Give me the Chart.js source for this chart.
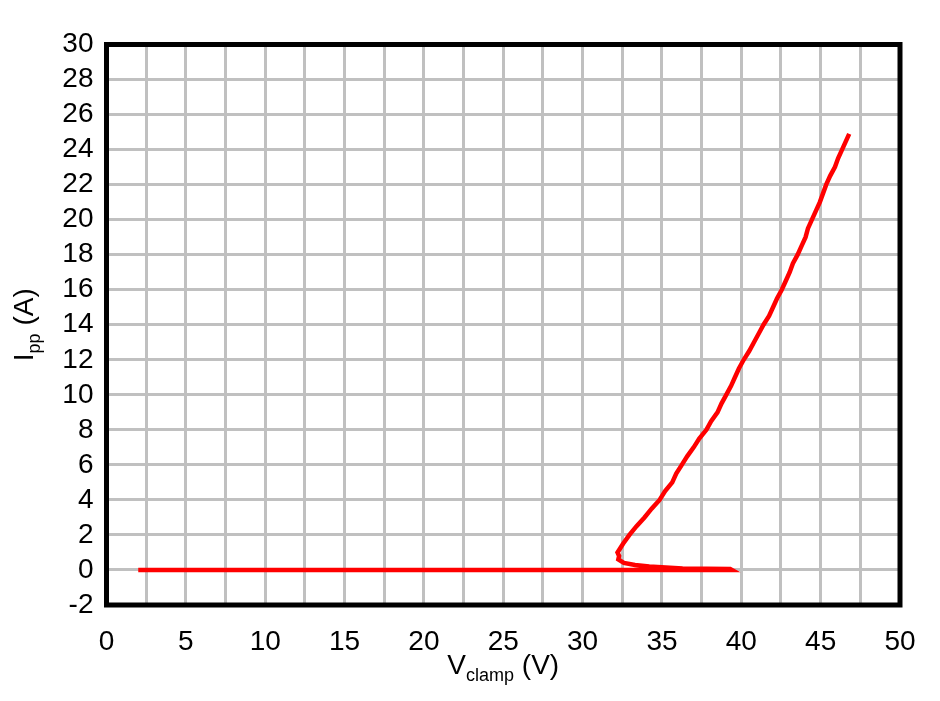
<!DOCTYPE html>
<html>
<head>
<meta charset="utf-8">
<script src="https://cdn.jsdelivr.net/npm/chart.js@4.4.1/dist/chart.umd.min.js"></script>
<style>
  html, body { margin: 0; padding: 0; background: #fff; }
  #wrap { width: 940px; height: 701px; }
</style>
</head>
<body>
<div id="wrap"><canvas id="tlp_chart" width="940" height="701"></canvas></div>
<script>
// TLP trace: clamp voltage (V) vs pulse current (A)
var vclamp = [2.0, 39.4, 39.3, 36.3, 34.2, 33.3, 32.6, 32.25, 32.3,
    32.2, 32.55, 32.95, 33.4, 33.9, 34.35, 34.85, 35.2, 35.65, 35.9,
    36.25, 36.6, 37.0, 37.35, 37.8, 38.1, 38.5, 38.75, 39.05, 39.35,
    39.6, 39.85, 40.15, 40.5, 40.8, 41.1, 41.4, 41.75, 42.0, 42.25,
    42.55, 42.8, 43.05, 43.25, 43.55, 43.8, 44.05, 44.2, 44.45, 44.7,
    44.95, 45.15, 45.35, 45.6, 45.9, 46.1, 46.35, 46.6, 46.8]
var ipp = [0.0, 0.0, 0.05, 0.09, 0.2, 0.28, 0.4, 0.6, 0.8,
    1.0, 1.5, 2.0, 2.5, 3.0, 3.5, 4.0, 4.5, 5.0, 5.5,
    6.0, 6.5, 7.0, 7.5, 8.0, 8.5, 9.0, 9.5, 10.0, 10.5,
    11.0, 11.5, 12.0, 12.5, 13.0, 13.5, 14.0, 14.5, 15.0, 15.5,
    16.0, 16.5, 17.0, 17.5, 18.0, 18.5, 19.0, 19.5, 20.0, 20.5,
    21.0, 21.5, 22.0, 22.5, 23.0, 23.5, 24.0, 24.5, 24.9]

var xMin = 0, xMax = 50, xStep = 2.5, xLabelStep = 5
var yMin = -2, yMax = 30, yStep = 2

var fontFamily = '"Liberation Sans", Arial, sans-serif'

var points = vclamp.map(function (v, i) { return { x: v, y: ipp[i] } })

// frame round the plot area and the two axis titles with subscripts
var framePlugin = {
    id: 'frame',
    afterDraw: function (chart) {
        var ctx = chart.ctx
        var a = chart.chartArea
        ctx.save()
        ctx.strokeStyle = '#000'
        ctx.lineWidth = 5
        ctx.strokeRect(a.left, a.top, a.right - a.left, a.bottom - a.top)

        function drawTitle(main, sub, rest, cx, base) {
            ctx.font = '28px ' + fontFamily
            var w1 = ctx.measureText(main).width
            var w3 = ctx.measureText(rest).width
            ctx.font = '18px ' + fontFamily
            var w2 = ctx.measureText(sub).width
            var x = cx - (w1 + w2 + w3) / 2
            ctx.fillStyle = '#000'
            ctx.textBaseline = 'alphabetic'
            ctx.textAlign = 'left'
            ctx.font = '28px ' + fontFamily
            ctx.fillText(main, x, base)
            ctx.font = '18px ' + fontFamily
            ctx.fillText(sub, x + w1, base + 7)
            ctx.font = '28px ' + fontFamily
            ctx.fillText(rest, x + w1 + w2, base)
        }

        drawTitle('V', 'clamp', ' (V)', (a.left + a.right) / 2, 674)

        ctx.translate(33, (a.top + a.bottom) / 2)
        ctx.rotate(-Math.PI / 2)
        drawTitle('I', 'pp', ' (A)', 0, 0)
        ctx.restore()
    }
}

var chart = new Chart(document.getElementById('tlp_chart'), {
    type: 'scatter',
    data: {
        datasets: [{
            data: points,
            showLine: true,
            borderColor: '#ff0000',
            borderWidth: 4.5,
            pointRadius: 0,
            tension: 0
        }]
    },
    options: {
        responsive: false,
        animation: false,
        layout: { padding: { left: 0, top: 44.5, right: 40, bottom: 0 } },
        plugins: { legend: { display: false }, tooltip: { enabled: false } },
        scales: {
            x: {
                type: 'linear',
                min: xMin,
                max: xMax,
                afterFit: function (s) { s.height = 96 },
                border: { display: false },
                grid: { color: '#c0c0c0', lineWidth: 3, drawTicks: false },
                ticks: {
                    stepSize: xStep,
                    padding: 20,
                    color: '#000',
                    font: { family: fontFamily, size: 28 },
                    maxRotation: 0,
                    autoSkip: false,
                    callback: function (v) { return v % xLabelStep === 0 ? String(v) : '' }
                }
            },
            y: {
                type: 'linear',
                min: yMin,
                max: yMax,
                afterFit: function (s) { s.width = 106.5 },
                border: { display: false },
                grid: { color: '#c0c0c0', lineWidth: 3, drawTicks: false },
                ticks: {
                    stepSize: yStep,
                    padding: 13,
                    color: '#000',
                    font: { family: fontFamily, size: 28 },
                    autoSkip: false
                }
            }
        }
    },
    plugins: [framePlugin]
})
</script>
</body>
</html>
